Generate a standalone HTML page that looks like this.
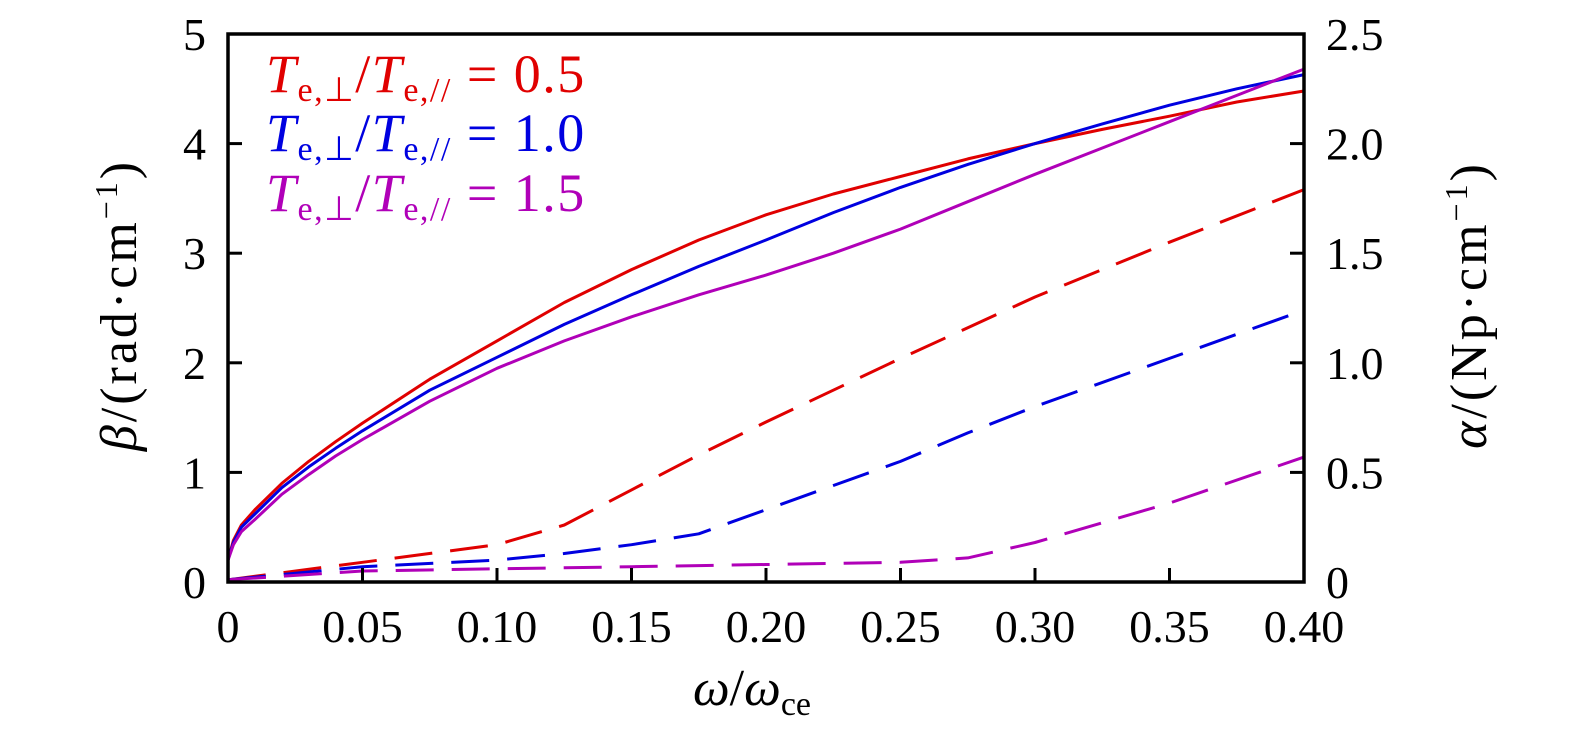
<!DOCTYPE html>
<html><head><meta charset="utf-8"><style>
body{margin:0;background:#fff}
svg text{font-family:"Liberation Serif",serif;fill:#000}
</style></head><body>
<svg id="chart" width="1575" height="738" xmlns="http://www.w3.org/2000/svg">
<g id="plot"></g>
<g id="axes"></g>
<text x="752" y="705" font-size="52" text-anchor="middle"><tspan font-style="italic">ω</tspan>/<tspan font-style="italic">ω</tspan><tspan font-size="34" dy="10">ce</tspan></text>
<text transform="translate(136,305) rotate(-90)" font-size="52" letter-spacing="3" text-anchor="middle"><tspan font-style="italic">β</tspan>/(rad·cm<tspan font-size="32" dy="-19">−1</tspan><tspan dy="19">)</tspan></text>
<text transform="translate(1486,305) rotate(-90)" font-size="52" letter-spacing="3" text-anchor="middle"><tspan font-style="italic">α</tspan>/(Np·cm<tspan font-size="32" dy="-19">−1</tspan><tspan dy="19">)</tspan></text>
<g font-size="54" letter-spacing="1.5">
<text x="266" y="92" style="fill:#e00000"><tspan font-style="italic">T</tspan><tspan font-size="34" dy="9">e,⊥</tspan><tspan dy="-9">/</tspan><tspan font-style="italic">T</tspan><tspan font-size="34" dy="9">e,//</tspan><tspan dy="-9"> = 0.5</tspan></text>
<text x="266" y="151" style="fill:#0000e0"><tspan font-style="italic">T</tspan><tspan font-size="34" dy="9">e,⊥</tspan><tspan dy="-9">/</tspan><tspan font-style="italic">T</tspan><tspan font-size="34" dy="9">e,//</tspan><tspan dy="-9"> = 1.0</tspan></text>
<text x="266" y="211" style="fill:#b000b8"><tspan font-style="italic">T</tspan><tspan font-size="34" dy="9">e,⊥</tspan><tspan dy="-9">/</tspan><tspan font-style="italic">T</tspan><tspan font-size="34" dy="9">e,//</tspan><tspan dy="-9"> = 1.5</tspan></text>
</g>
</svg>
<script>
const xTicks=[0,0.05,0.10,0.15,0.20,0.25,0.30,0.35,0.40];
const xTickLabels=["0","0.05","0.10","0.15","0.20","0.25","0.30","0.35","0.40"];
const yTicks=[0,1,2,3,4,5];
const y2Ticks=[0,0.5,1.0,1.5,2.0,2.5];
const y2TickLabels=["0","0.5","1.0","1.5","2.0","2.5"];
const xs=[0,0.002,0.005,0.01,0.02,0.03,0.04,0.05,0.075,0.10,0.125,0.15,0.175,0.20,0.225,0.25,0.275,0.30,0.325,0.35,0.375,0.40];
const betaRed=[0.2,0.38,0.52,0.66,0.9,1.1,1.28,1.45,1.85,2.2,2.55,2.85,3.12,3.35,3.54,3.7,3.86,4.0,4.13,4.25,4.38,4.48];
const betaBlue=[0.2,0.36,0.5,0.62,0.86,1.05,1.22,1.38,1.75,2.05,2.35,2.62,2.88,3.12,3.37,3.6,3.81,4.0,4.18,4.35,4.5,4.63];
const betaMag=[0.2,0.34,0.46,0.57,0.8,0.98,1.15,1.3,1.65,1.95,2.2,2.42,2.62,2.8,3.0,3.22,3.47,3.72,3.96,4.2,4.44,4.68];
const xa=[0,0.05,0.10,0.125,0.15,0.175,0.20,0.25,0.275,0.30,0.35,0.40];
const alphaRed=[0.01,0.09,0.17,0.26,0.42,0.58,0.73,1.02,1.16,1.3,1.55,1.79];
const alphaBlue=[0.01,0.07,0.1,0.13,0.17,0.22,0.33,0.55,0.68,0.8,1.02,1.24];
const alphaMag=[0.01,0.05,0.06,0.065,0.07,0.075,0.08,0.09,0.11,0.18,0.36,0.57];
const X0=228,X1=1304,Y0=582,Y1=34;
const sx=v=>X0+(v/0.4)*(X1-X0);
const sy=v=>Y0-(v/5)*(Y0-Y1);
const sy2=v=>Y0-(v/2.5)*(Y0-Y1);
const NS="http://www.w3.org/2000/svg";
const plot=document.getElementById('plot'),axes=document.getElementById('axes');
function mk(tag,attrs,parent){const e=document.createElementNS(NS,tag);for(const k in attrs)e.setAttribute(k,attrs[k]);parent.appendChild(e);return e;}
function line(xv,yv,fy,color,dash,name){
  const d=xv.map((x,i)=>(i?'L':'M')+sx(x).toFixed(1)+','+fy(yv[i]).toFixed(1)).join(' ');
  const p=mk('path',{d:d,fill:'none',stroke:color,'stroke-width':3,'stroke-dasharray':dash||'none','stroke-linejoin':'round'},plot);
  
  
}
line(xs,betaRed,sy,'#e00000',null,'beta-line-0.5');
line(xs,betaBlue,sy,'#0000e0',null,'beta-line-1.0');
line(xs,betaMag,sy,'#b000b8',null,'beta-line-1.5');
line(xa,alphaRed,sy2,'#e00000','38,18','alpha-line-0.5');
line(xa,alphaBlue,sy2,'#0000e0','38,18','alpha-line-1.0');
line(xa,alphaMag,sy2,'#b000b8','38,18','alpha-line-1.5');
const fr=mk('rect',{x:X0,y:Y1,width:X1-X0,height:Y0-Y1,fill:'none',stroke:'#000','stroke-width':3.5},axes);


xTicks.forEach((v,i)=>{
  const t=mk('line',{x1:sx(v),x2:sx(v),y1:Y0,y2:Y0-14,stroke:'#000','stroke-width':3},axes);
  
  
  const l=mk('text',{x:sx(v),y:Y0+60,'font-size':46,'text-anchor':'middle'},axes);l.textContent=xTickLabels[i];
  
  
});
yTicks.forEach(v=>{
  const t=mk('line',{x1:X0,x2:X0+14,y1:sy(v),y2:sy(v),stroke:'#000','stroke-width':3},axes);
  
  
  const l=mk('text',{x:X0-22,y:sy(v)+16,'font-size':46,'text-anchor':'end'},axes);l.textContent=String(v);
  
  
});
y2Ticks.forEach((v,i)=>{
  const t=mk('line',{x1:X1,x2:X1-14,y1:sy2(v),y2:sy2(v),stroke:'#000','stroke-width':3},axes);
  
  
  const l=mk('text',{x:X1+22,y:sy2(v)+16,'font-size':46,'text-anchor':'start'},axes);l.textContent=y2TickLabels[i];
  
  
});
</script>
</body></html>
